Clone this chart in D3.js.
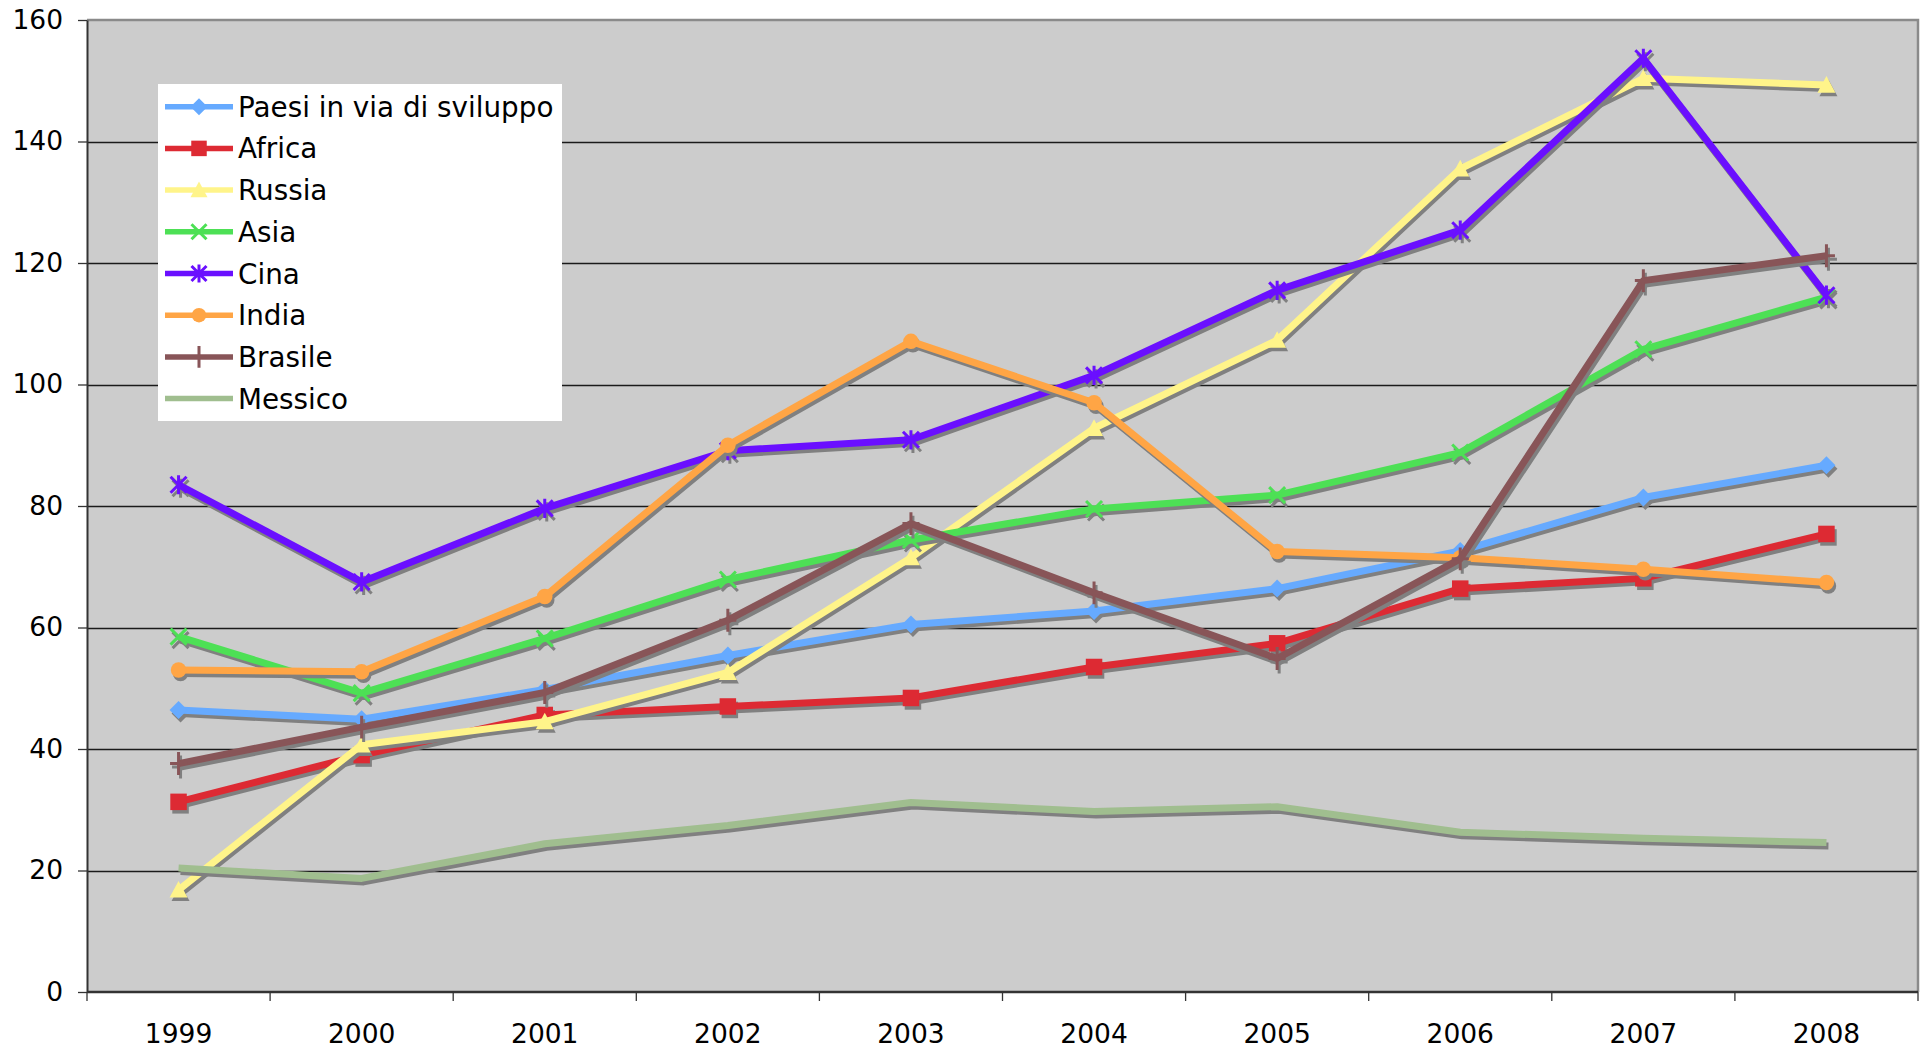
<!DOCTYPE html>
<html>
<head>
<meta charset="utf-8">
<script src="https://cdn.jsdelivr.net/npm/d3@7"></script>
<style>
  html, body { margin: 0; padding: 0; background: #ffffff; }
  svg { display: block; }
  text { font-family: "DejaVu Sans", Verdana, sans-serif; fill: #000; }
</style>
</head>
<body>
<svg id="chart" width="1923" height="1051"></svg>
<script>
// ---- data ----
const years = ["1999","2000","2001","2002","2003","2004","2005","2006","2007","2008"];
const yTicks = [0, 20, 40, 60, 80, 100, 120, 140, 160];

const paesi   = [46.4, 44.9, 49.8, 55.4, 60.5, 62.7, 66.4, 72.6, 81.4, 86.7];
const africa  = [31.3, 39.0, 45.6, 47.0, 48.4, 53.5, 57.4, 66.4, 68.1, 75.4];
const russia  = [16.8, 40.7, 44.5, 52.6, 71.5, 92.8, 107.3, 135.5, 150.4, 149.3];
const asia    = [58.5, 49.2, 58.2, 67.9, 74.4, 79.5, 81.8, 88.8, 105.8, 114.4];
const cina    = [83.5, 67.5, 79.6, 89.1, 90.9, 101.5, 115.5, 125.4, 153.7, 114.7];
const india   = [53.0, 52.7, 65.1, 90.0, 107.1, 97.0, 72.5, 71.5, 69.6, 67.4];
const brasile = [37.6, 43.6, 49.3, 61.2, 77.1, 65.7, 54.9, 71.3, 117.1, 121.2];
const messico = [20.4, 18.7, 24.4, 27.4, 31.2, 29.7, 30.5, 26.3, 25.3, 24.6];

const seriesNames = ["Paesi in via di sviluppo","Africa","Russia","Asia","Cina","India","Brasile","Messico"];
const seriesValues = [paesi, africa, russia, asia, cina, india, brasile, messico];
const seriesColors = ["#66aaff","#dd2a33","#fff48a","#4de055","#6a0fff","#ffa545","#885558","#a0be8f"];
const seriesMarkers = ["diamond","square","triangle","x","asterisk","circle","plus","none"];

// ---- layout ----
const svg = d3.select("#chart");
const L = 87, R = 1918, T = 20, B = 992;
const x = d3.scaleBand().domain(years).range([L, R]).padding(0);
const y = d3.scaleLinear().domain([0, 160]).range([B, T]);
const shadow = "#808080";
const sdx = 2, sdy = 3.5;

// plot background
svg.append("rect").attr("x", L).attr("y", T).attr("width", R - L).attr("height", B - T)
  .attr("fill", "#cccccc");

// gridlines
svg.append("g").selectAll("line").data(yTicks.filter(d => d > 0 && d < 160)).join("line")
  .attr("x1", L).attr("x2", R)
  .attr("y1", d => Math.round(y(d)) + 0.5).attr("y2", d => Math.round(y(d)) + 0.5)
  .attr("stroke", "#1a1a1a").attr("stroke-width", 1.3);

// plot border top/right
svg.append("path")
  .attr("d", `M${L},${T}H${R}V${B}`)
  .attr("fill", "none").attr("stroke", "#8a8a8a").attr("stroke-width", 2.5);

// y axis
const yAxis = d3.axisLeft(y).tickValues(yTicks).tickSize(9).tickPadding(15).tickSizeOuter(0);
const gy = svg.append("g").attr("transform", `translate(${L},0)`).call(yAxis);
gy.select(".domain").attr("stroke", "#333").attr("stroke-width", 2);
gy.selectAll(".tick line").attr("stroke", "#333").attr("stroke-width", 1.3);
gy.selectAll(".tick text").style("font-family", "'DejaVu Sans', Verdana, sans-serif")
  .style("font-size", "26.5px").attr("fill", "#000");

// x axis: ticks at category boundaries
svg.append("line").attr("x1", L).attr("x2", R).attr("y1", B).attr("y2", B)
  .attr("stroke", "#333").attr("stroke-width", 2.5);
const boundaries = years.map(d => x(d)).concat([R]);
svg.append("g").selectAll("line").data(boundaries).join("line")
  .attr("x1", d => d).attr("x2", d => d).attr("y1", B).attr("y2", B + 9)
  .attr("stroke", "#333").attr("stroke-width", 1.3);
svg.append("g").selectAll("text").data(years).join("text")
  .attr("x", d => x(d) + x.bandwidth() / 2).attr("y", 1043)
  .attr("text-anchor", "middle").style("font-size", "26.5px").text(d => d);

// marker path builders
function markerPath(type, s) {
  const h = s / 2;
  switch (type) {
    case "diamond": return `M0,${-h}L${h},0L0,${h}L${-h},0Z`;
    case "square": return `M${-h},${-h}H${h}V${h}H${-h}Z`;
    case "triangle": return `M0,${-h}L${h},${h * 0.85}L${-h},${h * 0.85}Z`;
    case "circle": return d3.symbol(d3.symbolCircle, Math.PI * h * h)();
    case "x": return `M${-h},${-h}L${h},${h}M${-h},${h}L${h},${-h}`;
    case "asterisk": return `M${-h},${-h}L${h},${h}M${-h},${h}L${h},${-h}M0,${-h * 1.2}V${h * 1.2}`;
    case "plus": return `M0,${-h * 1.35}V${h * 1.35}M${-h},0H${h}`;
    default: return "";
  }
}
const filled = t => ["diamond","square","triangle","circle"].includes(t);
const markerSize = { diamond: 18, square: 16.5, triangle: 18, circle: 15.5, x: 16, asterisk: 16, plus: 17, none: 0 };

const line = d3.line().x((d, i) => x(years[i]) + x.bandwidth() / 2).y(d => y(d));

const plot = svg.append("g");
seriesValues.forEach((vals, si) => {
  const col = seriesColors[si], mk = seriesMarkers[si];
  const g = plot.append("g");
  // shadow
  g.append("path").datum(vals).attr("d", line)
    .attr("transform", `translate(${sdx},${sdy})`)
    .attr("fill", "none").attr("stroke", shadow).attr("stroke-width", 7)
    .attr("stroke-linejoin", "round");
  if (mk !== "none") {
    g.append("g").selectAll("path").data(vals).join("path")
      .attr("transform", (d, i) => `translate(${x(years[i]) + x.bandwidth() / 2 + sdx},${y(d) + sdy})`)
      .attr("d", markerPath(mk, markerSize[mk]))
      .attr("fill", filled(mk) ? shadow : "none")
      .attr("stroke", shadow).attr("stroke-width", filled(mk) ? 0 : 3);
  }
  // line
  g.append("path").datum(vals).attr("d", line)
    .attr("fill", "none").attr("stroke", col).attr("stroke-width", 7)
    .attr("stroke-linejoin", "round");
  if (mk !== "none") {
    g.append("g").selectAll("path").data(vals).join("path")
      .attr("transform", (d, i) => `translate(${x(years[i]) + x.bandwidth() / 2},${y(d)})`)
      .attr("d", markerPath(mk, markerSize[mk]))
      .attr("fill", filled(mk) ? col : "none")
      .attr("stroke", col).attr("stroke-width", filled(mk) ? 0 : 3);
  }
});

// legend
const lg = svg.append("g");
lg.append("rect").attr("x", 158).attr("y", 84).attr("width", 404).attr("height", 337)
  .attr("fill", "#ffffff");
seriesNames.forEach((name, i) => {
  const cy = 106.7 + i * 41.7;
  const col = seriesColors[i], mk = seriesMarkers[i];
  lg.append("line").attr("x1", 165).attr("x2", 233).attr("y1", cy).attr("y2", cy)
    .attr("stroke", col).attr("stroke-width", 5.5);
  if (mk !== "none") {
    lg.append("path").attr("transform", `translate(199,${cy})`)
      .attr("d", markerPath(mk, markerSize[mk] - 1))
      .attr("fill", filled(mk) ? col : "none")
      .attr("stroke", col).attr("stroke-width", filled(mk) ? 0 : 3);
  }
  lg.append("text").attr("x", 238).attr("y", cy).attr("dy", "0.36em")
    .style("font-size", "27.8px").text(name);
});
</script>
</body>
</html>
